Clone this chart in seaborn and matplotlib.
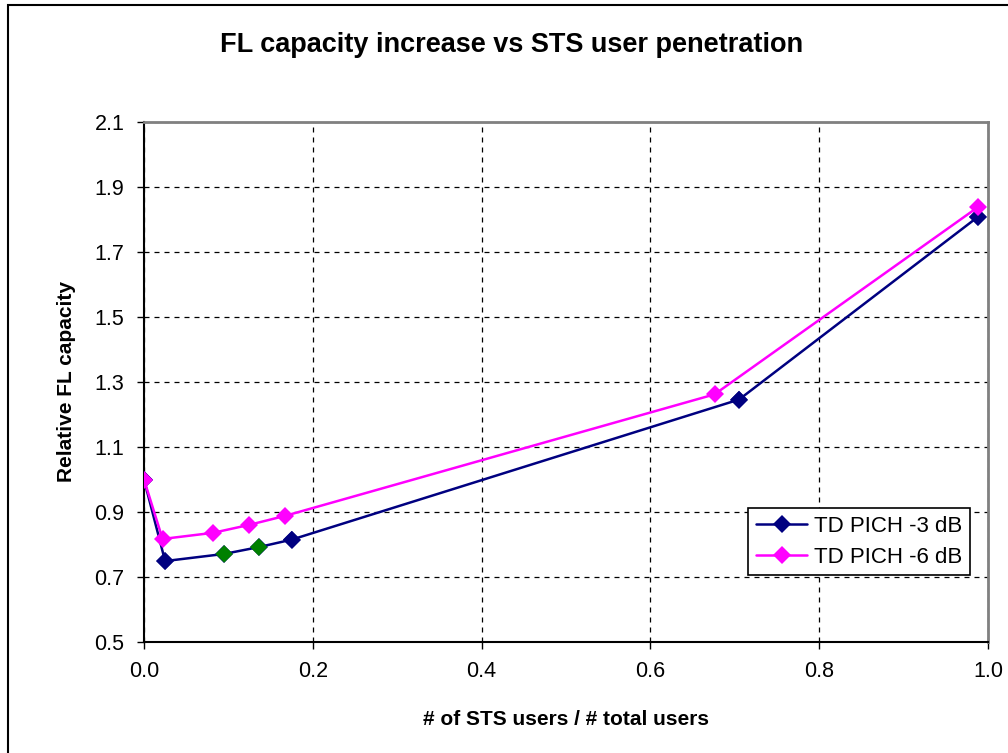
import matplotlib
matplotlib.use("Agg")
import matplotlib.pyplot as plt
import numpy as np
import pandas as pd
import seaborn as sns
from matplotlib.patches import Rectangle

# STS user penetration vs relative forward link capacity
pen_3db = [0.0, 0.025, 0.095, 0.136, 0.175, 0.705, 0.988]
cap_3db = [1.0, 0.749, 0.771, 0.792, 0.815, 1.246, 1.808]
# a few points of the -3 dB curve are coloured green in the original
marker_3db = ["#000080", "#000080", "#008000", "#008000", "#000080", "#000080", "#000080"]

pen_6db = [0.0, 0.022, 0.082, 0.124, 0.167, 0.676, 0.988]
cap_6db = [1.0, 0.817, 0.836, 0.860, 0.888, 1.262, 1.838]

series_names = ["TD PICH -3 dB", "TD PICH -6 dB"]
x_ticks = [0.0, 0.2, 0.4, 0.6, 0.8, 1.0]
y_ticks = [0.5, 0.7, 0.9, 1.1, 1.3, 1.5, 1.7, 1.9, 2.1]

sns.set_style("white")
plt.rcParams["font.family"] = ["Liberation Sans", "DejaVu Sans"]
plt.rcParams["text.color"] = "black"
plt.rcParams["axes.labelcolor"] = "black"
plt.rcParams["xtick.color"] = "black"
plt.rcParams["ytick.color"] = "black"

fig = plt.figure(figsize=(10.08, 7.53), dpi=100)
ax = fig.add_axes([144 / 1008, 1 - 642 / 753, 844 / 1008, 520 / 753])

# outer chart border
fig.patches.append(Rectangle((8 / 1008, -0.05), 1.2, 1 - 5 / 753 + 0.05,
                             transform=fig.transFigure, fill=False,
                             edgecolor="black", linewidth=1.5))

df3 = pd.DataFrame({"x": pen_3db, "y": cap_3db})
df6 = pd.DataFrame({"x": pen_6db, "y": cap_6db})

sns.lineplot(data=df3, x="x", y="y", ax=ax, sort=False, color="#000080",
             marker="D", markersize=9, markeredgewidth=0, linewidth=1.8,
             label=series_names[0], zorder=3)
# recolour selected markers
sns.scatterplot(x=pen_3db, y=cap_3db, hue=marker_3db, palette={c: c for c in set(marker_3db)},
                marker="D", s=80, linewidth=0, ax=ax, legend=False, zorder=4)
sns.lineplot(data=df6, x="x", y="y", ax=ax, sort=False, color="#FF00FF",
             marker="D", markersize=9, markeredgewidth=0, linewidth=1.8,
             label=series_names[1], zorder=5)

ax.set_xlim(0, 1.0)
ax.set_ylim(0.5, 2.1)
ax.set_xticks(x_ticks)
ax.set_yticks(y_ticks)
ax.set_xticklabels([f"{v:.1f}" for v in x_ticks], fontsize=15.5)
ax.set_yticklabels([f"{v:.1f}" for v in y_ticks], fontsize=15.5)
ax.tick_params(axis="both", direction="out", length=5, width=1, color="black",
               bottom=True, left=True, pad=9)

ax.grid(True, color="black", linestyle=(0, (4, 4)), linewidth=0.9)
ax.set_axisbelow(True)

for side in ["left", "bottom"]:
    ax.spines[side].set_color("black")
    ax.spines[side].set_linewidth(1.5)
for side in ["top", "right"]:
    ax.spines[side].set_color("#808080")
    ax.spines[side].set_linewidth(2)
    ax.spines[side].set_visible(True)

ax.set_xlabel("# of STS users / # total users", fontsize=15, fontweight="bold", labelpad=20)
ax.set_ylabel("Relative FL capacity", fontsize=15, fontweight="bold", labelpad=13)
fig.text(512 / 1008, 1 - 45 / 753, "FL capacity increase vs STS user penetration",
         ha="center", va="center", fontsize=19.5, fontweight="bold")

leg = ax.legend(loc="upper left", bbox_to_anchor=(0.716, 0.258), fontsize=16,
                frameon=True, fancybox=False, framealpha=1, edgecolor="black",
                borderpad=0.35, handlelength=2.3, handletextpad=0.3,
                labelspacing=0.45, borderaxespad=0)
leg.get_frame().set_linewidth(1.2)

fig.savefig("out.png", dpi=100)
